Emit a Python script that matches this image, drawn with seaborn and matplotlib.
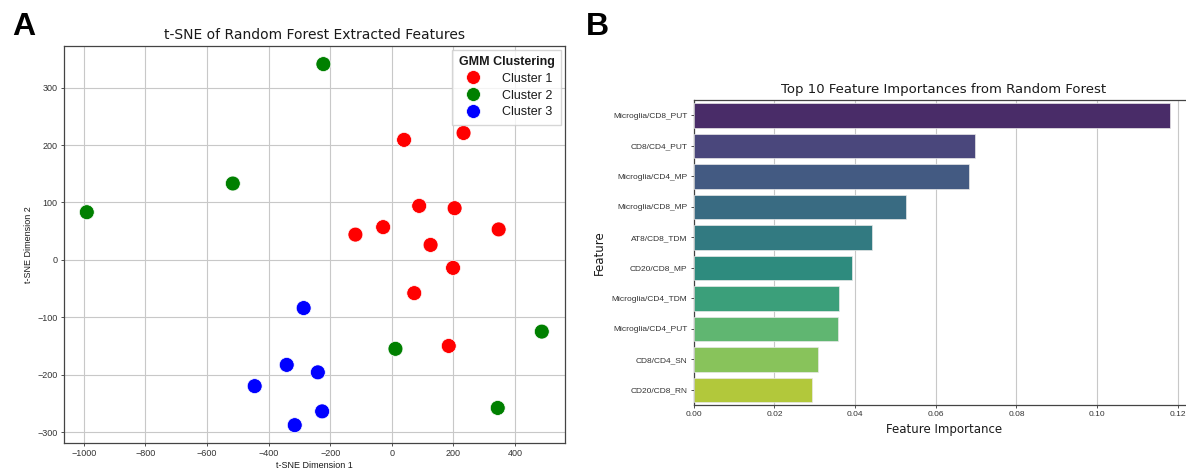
import numpy as np
import pandas as pd
import matplotlib.pyplot as plt
import seaborn as sns

# --- Panel A: t-SNE coordinates ---
tsne_x = [40, 233, 89, 204, 347, -28, -118, 126, 199, 73, 185,
          -222, -516, -990, 487, 12, 344,
          -286, -341, -240, -445, -226, -315]
tsne_y = [209, 221, 94, 90, 53, 57, 44, 26, -14, -58, -150,
          341, 133, 83, -125, -155, -258,
          -84, -183, -196, -220, -264, -288]
cluster = (['Cluster 1'] * 11) + (['Cluster 2'] * 6) + (['Cluster 3'] * 6)
cluster_names = ['Cluster 1', 'Cluster 2', 'Cluster 3']
cluster_colors = ['red', 'green', 'blue']

# --- Panel B: top 10 feature importances ---
features = ['Microglia/CD8_PUT', 'CD8/CD4_PUT', 'Microglia/CD4_MP', 'Microglia/CD8_MP',
            'AT8/CD8_TDM', 'CD20/CD8_MP', 'Microglia/CD4_TDM', 'Microglia/CD4_PUT',
            'CD8/CD4_SN', 'CD20/CD8_RN']
importance = [0.1181, 0.0698, 0.0682, 0.0525, 0.0441, 0.0391, 0.0359, 0.0357, 0.0308, 0.0292]

df_tsne = pd.DataFrame({'x': tsne_x, 'y': tsne_y, 'cluster': cluster})
df_imp = pd.DataFrame({'Feature': features, 'Importance': importance})

sns.set_style('ticks')
plt.rcParams['font.family'] = ['DejaVu Sans']
plt.rcParams['text.color'] = '#1a1a1a'
plt.rcParams['axes.labelcolor'] = '#1a1a1a'
plt.rcParams['xtick.color'] = '#333333'
plt.rcParams['ytick.color'] = '#333333'
tick_font = ['Liberation Sans', 'DejaVu Sans']

fig = plt.figure(figsize=(11.86, 4.70), dpi=100)
ax1 = fig.add_axes([0.054, 0.057, 0.422, 0.845])
ax2 = fig.add_axes([0.585, 0.138, 0.4217, 0.649])

# 1. scatter
sns.scatterplot(data=df_tsne, x='x', y='y', hue='cluster', hue_order=cluster_names,
                palette=dict(zip(cluster_names, cluster_colors)), s=115,
                edgecolor='white', linewidth=0.5, ax=ax1, zorder=3)
ax1.grid(True, color='#c8c8c8', linewidth=0.8)
ax1.set_axisbelow(True)
ax1.set_title('t-SNE of Random Forest Extracted Features', fontsize=10, pad=5)
ax1.set_xlabel('t-SNE Dimension 1', fontsize=6.5, family=tick_font, labelpad=2)
ax1.set_ylabel('t-SNE Dimension 2', fontsize=6.5, family=tick_font, labelpad=3)
ax1.set_xticks(np.arange(-1000, 401, 200))
ax1.set_yticks(np.arange(-300, 301, 100))
ax1.tick_params(labelsize=6.5, length=2.5, width=0.6, pad=2)
for lab in ax1.get_xticklabels() + ax1.get_yticklabels():
    lab.set_family(tick_font)
for sp in ax1.spines.values():
    sp.set_color('#444444')
    sp.set_linewidth(0.9)

leg = ax1.legend(title='GMM Clustering', loc='upper right',
                 prop={'family': tick_font, 'size': 9}, frameon=True,
                 borderpad=0.5, handletextpad=1.3, labelspacing=0.38,
                 fancybox=False, edgecolor='#cccccc', borderaxespad=0.3)
leg.get_title().set_fontweight('bold')
leg.get_title().set_family(tick_font)
leg.get_title().set_fontsize(9)
for h in leg.legend_handles:
    try:
        h.set_markersize(10)
    except AttributeError:
        h.set_sizes([100])

# 2. bar chart
sns.barplot(data=df_imp, x='Importance', y='Feature', hue='Feature', legend=False,
            palette='viridis', ax=ax2, zorder=3, edgecolor='#e8e8e8', linewidth=0.5)
ax2.grid(True, axis='x', color='#c8c8c8', linewidth=0.8, zorder=0)
ax2.set_axisbelow(True)
ax2.set_title('Top 10 Feature Importances from Random Forest', fontsize=9.5, pad=5)
ax2.set_xlabel('Feature Importance', fontsize=8.5, labelpad=3)
ax2.set_ylabel('Feature', fontsize=8.5, labelpad=4)
ax2.set_xticks(np.arange(0, 0.121, 0.02))
ax2.tick_params(labelsize=6, length=2.5, width=0.6, pad=2)
for lab in ax2.get_xticklabels() + ax2.get_yticklabels():
    lab.set_family(tick_font)
for sp in ax2.spines.values():
    sp.set_color('#444444')
    sp.set_linewidth(0.9)

# panel letters
fig.text(0.010, 0.925, 'A', fontsize=23, fontweight='bold', family=tick_font, color='black')
fig.text(0.494, 0.925, 'B', fontsize=23, fontweight='bold', family=tick_font, color='black')

fig.savefig('out.png', dpi=100)
